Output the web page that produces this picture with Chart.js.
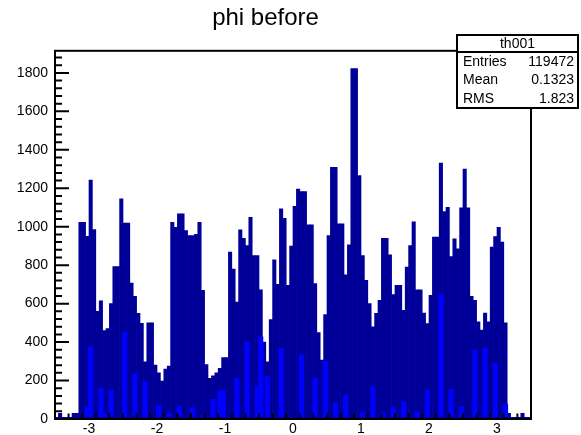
<!DOCTYPE html>
<html>
<head>
<meta charset="utf-8">
<script src="https://cdn.jsdelivr.net/npm/chart.js@4.4.1/dist/chart.umd.min.js"></script>
<style>
html, body { margin: 0; padding: 0; background: #fff; }
canvas { display: block; }
</style>
</head>
<body>
<canvas id="histo" width="581" height="435"></canvas>
<script>
// binning of th001
const xLow = -3.5, xHigh = 3.5, binWidth = 0.05;

// visible outline height per bin
const counts = [
    0, 30, 0, 0, 0, 30, 30, 1023, 1023, 950,
    1243, 985, 560, 614, 460, 470, 600, 793, 793, 1145,
    1019, 1019, 707, 638, 550, 497, 297, 500, 500, 280,
    240, 197, 260, 275, 1023, 997, 1067, 1067, 980, 954,
    954, 960, 1023, 669, 283, 211, 225, 240, 263, 320,
    320, 868, 780, 608, 984, 940, 902, 1049, 850, 850,
    672, 400, 297, 517, 828, 700, 1093, 1044, 695, 900,
    1106, 1196, 1183, 1183, 1010, 1010, 704, 450, 306, 543,
    954, 1309, 1309, 1015, 1015, 750, 906, 1822, 1822, 1266,
    850, 721, 600, 479, 550, 617, 940, 940, 854, 647,
    695, 695, 565, 790, 902, 1025, 672, 672, 551, 496,
    643, 946, 946, 1331, 1079, 1101, 845, 937, 885, 1098,
    1300, 1098, 638, 617, 505, 462, 551, 505, 894, 949,
    997, 920, 500, 30, 0, 0, 0, 30, 0, 0
];

// where the blue fill shows through at the bottom
const fillCounts = [
    0, 0, 0, 0, 0, 0, 0, 0, 0, 64,
    375, 0, 0, 161, 30, 0, 150, 0, 0, 0,
    453, 0, 0, 237, 0, 0, 194, 0, 0, 0,
    73, 0, 0, 30, 0, 0, 67, 0, 0, 0,
    60, 0, 0, 20, 0, 0, 102, 0, 147, 147,
    0, 0, 0, 214, 0, 0, 401, 0, 0, 168,
    427, 0, 220, 0, 0, 0, 367, 0, 0, 0,
    0, 0, 332, 0, 0, 0, 212, 0, 0, 300,
    0, 0, 83, 0, 0, 124, 0, 0, 0, 0,
    33, 0, 0, 168, 0, 0, 33, 0, 0, 60,
    0, 0, 90, 0, 0, 0, 35, 0, 0, 150,
    0, 0, 0, 648, 0, 0, 154, 0, 0, 64,
    0, 0, 0, 358, 0, 0, 367, 0, 0, 289,
    0, 0, 78, 0, 0, 0, 0, 0, 0, 0
];

const xTickValues = [-3, -2, -1, 0, 1, 2, 3];
const yTickValues = [0, 200, 400, 600, 800, 1000, 1200, 1400, 1600, 1800];
const yMax = 1915;
const yMajor = 200, yMinor = 40;
const xMinor = 0.2;

const statsName = 'th001';
const statsLabels = ['Entries', 'Mean', 'RMS'];
const statsValues = ['119472', '0.1323', '1.823'];

const FONT = "'Liberation Sans', Arial, Helvetica, sans-serif";
const NAVY = '#000099';
const BLUE = '#0000ff';

const centers = counts.map((_, i) => xLow + (i + 0.5) * binWidth);

// ROOT-like frame, inward ticks and stats box
const rootFrame = {
    id: 'rootFrame',
    afterDraw(chart) {
        const { ctx, chartArea: a, scales: { x, y } } = chart;
        ctx.save();

        // histogram outline along zero
        const y0 = y.getPixelForValue(0);
        ctx.strokeStyle = NAVY;
        ctx.lineWidth = 2;
        ctx.beginPath();
        ctx.moveTo(a.left, y0 - 1);
        ctx.lineTo(a.right, y0 - 1);
        ctx.stroke();

        ctx.strokeStyle = '#000';
        ctx.lineWidth = 2;
        ctx.strokeRect(a.left, a.top, a.right - a.left, a.bottom - a.top);

        ctx.beginPath();
        for (let i = 0; i * yMinor <= yMax; i++) {
            const py = y.getPixelForValue(i * yMinor);
            const len = (i * yMinor) % yMajor === 0 ? 14 : 7;
            ctx.moveTo(a.left, py);
            ctx.lineTo(a.left + len, py);
        }
        const nx = Math.round((xHigh - xLow) / xMinor);
        for (let i = 1; i < nx; i++) {
            const v = xLow + i * xMinor;
            const px = x.getPixelForValue(v);
            const major = Math.abs(v - Math.round(v)) < 1e-6;
            ctx.moveTo(px, a.bottom);
            ctx.lineTo(px, a.bottom - (major ? 11 : 5.5));
        }
        ctx.stroke();

        // stats box
        const bx = 457, by = 35, bw = 121, bh = 73, hh = 17;
        ctx.fillStyle = '#fff';
        ctx.fillRect(bx, by, bw, bh);
        ctx.strokeRect(bx, by, bw, bh);
        ctx.beginPath();
        ctx.moveTo(bx, by + hh);
        ctx.lineTo(bx + bw, by + hh);
        ctx.stroke();

        ctx.fillStyle = '#000';
        ctx.font = '14px ' + FONT;
        ctx.textBaseline = 'middle';
        ctx.textAlign = 'center';
        ctx.fillText(statsName, bx + bw / 2, by + hh / 2 + 1);
        const rowH = (bh - hh) / statsLabels.length;
        statsLabels.forEach((lab, i) => {
            const ty = by + hh + rowH * (i + 0.5) + 0.5;
            ctx.textAlign = 'left';
            ctx.fillText(lab, bx + 6, ty);
            ctx.textAlign = 'right';
            ctx.fillText(statsValues[i], bx + bw - 4, ty);
        });
        ctx.restore();
    }
};

new Chart(document.getElementById('histo'), {
    type: 'bar',
    data: {
        datasets: [
            {
                label: 'fill',
                data: centers.map((c, i) => ({ x: c, y: fillCounts[i] })),
                backgroundColor: BLUE,
                borderWidth: 0,
                grouped: false,
                barThickness: 4.5,
                order: 0
            },
            {
                label: statsName,
                data: centers.map((c, i) => ({ x: c, y: counts[i] })),
                backgroundColor: NAVY,
                borderWidth: 0,
                grouped: false,
                barPercentage: 1,
                categoryPercentage: 1,
                order: 1
            }
        ]
    },
    options: {
        responsive: false,
        animation: false,
        devicePixelRatio: 1,
        layout: { padding: { left: 0, right: 50, top: 0, bottom: 0 } },
        plugins: {
            legend: { display: false },
            tooltip: { enabled: false },
            title: {
                display: true,
                text: 'phi before',
                color: '#000',
                font: { family: FONT, size: 24, weight: 'normal' },
                padding: { top: 4, bottom: 18 }
            }
        },
        scales: {
            x: {
                type: 'linear',
                min: xLow,
                max: xHigh,
                offset: false,
                grid: { display: false, drawTicks: false },
                border: { display: false },
                ticks: {
                    autoSkip: false,
                    maxRotation: 0,
                    padding: 2,
                    color: '#000',
                    font: { family: FONT, size: 14 },
                    callback: v => String(v)
                },
                afterBuildTicks: s => { s.ticks = xTickValues.map(v => ({ value: v })); },
                afterFit: s => { s.height = 16; }
            },
            y: {
                min: 0,
                max: yMax,
                grid: { display: false, drawTicks: false },
                border: { display: false },
                ticks: {
                    autoSkip: false,
                    padding: 7,
                    color: '#000',
                    font: { family: FONT, size: 14 },
                    callback: v => String(v)
                },
                afterBuildTicks: s => { s.ticks = yTickValues.map(v => ({ value: v })); },
                afterFit: s => { s.width = 55; }
            }
        }
    },
    plugins: [rootFrame]
});
</script>
</body>
</html>
